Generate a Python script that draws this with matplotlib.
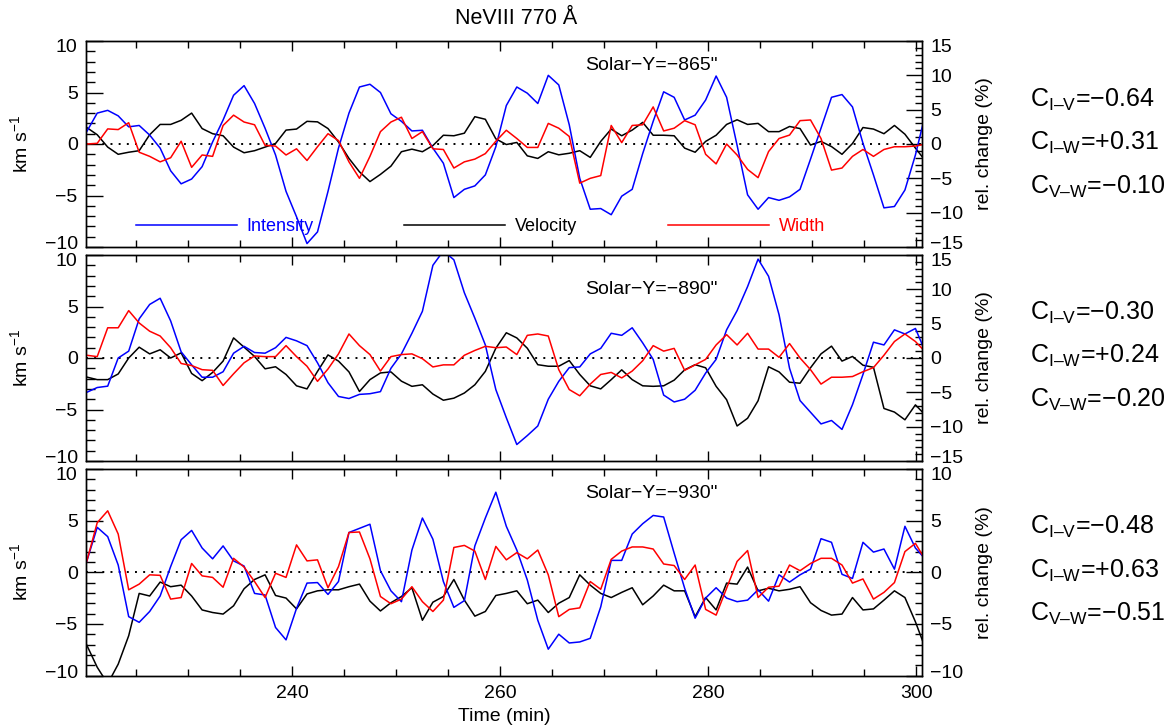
import numpy as np
import matplotlib
matplotlib.use("Agg")
import matplotlib.pyplot as plt
import matplotlib.transforms as mtransforms
from matplotlib.ticker import MultipleLocator, FixedLocator

plt.rcParams['font.family'] = ['Liberation Sans', 'DejaVu Sans']
plt.rcParams['mathtext.fontset'] = 'custom'
plt.rcParams['mathtext.rm'] = 'Liberation Sans'
plt.rcParams['mathtext.it'] = 'Liberation Sans:italic'
plt.rcParams['mathtext.bf'] = 'Liberation Sans:bold'

# ---------------- data ----------------
START = 220.22        # min, first sample
CADENCE = 1.0087      # min per sample

title = "NeVIII 770 Å"
solar_y = ['Solar−Y=−865"', 'Solar−Y=−890"', 'Solar−Y=−930"']
corr_labels = ['C$_{\\mathrm{I\u2013V}}$', 'C$_{\\mathrm{I\u2013W}}$', 'C$_{\\mathrm{V\u2013W}}$']
corr_values = [['−0.64', '+0.31', '−0.10'],
               ['−0.30', '+0.24', '−0.20'],
               ['−0.48', '+0.63', '−0.51']]
series_names = ['Intensity', 'Velocity', 'Width']

# panel 1 (Solar-Y = -865")
int1 = [1.8, 4.5, 4.9, 4.1, 2.5, 2.7, 1.3, -0.6, -3.9, -5.8,
        -5.1, -3.3, 0.3, 3.5, 7.1, 8.5, 5.9, 2.3, -1.6, -6.9,
        -10.6, -14.5, -12.8, -6.9, -0.6, 4.5, 8.3, 8.7, 7.5, 4.4,
        3.3, 1.9, 2.0, -0.6, -2.8, -7.8, -6.6, -6.1, -4.5, -0.4,
        5.6, 8.3, 7.4, 5.9, 10.0, 8.6, 2.8, -5.0, -9.5, -9.4,
        -10.3, -7.6, -6.6, -1.4, 3.3, 7.6, 6.8, 3.5, 4.2, 6.4,
        9.9, 6.8, -0.2, -7.4, -9.5, -7.8, -8.2, -7.7, -6.6, -2.2,
        2.3, 6.8, 7.2, 5.4, 0.1, -4.5, -9.3, -9.1, -6.7, -1.6,
        4.7]
vel1 = [1.6, 0.9, -0.3, -1.0, -0.8, -0.65, 0.9, 1.9, 1.9, 2.3,
        3.0, 1.5, 1.0, 0.8, -0.3, -0.85, -0.65, -0.3, 0.05, 1.35,
        1.45, 2.2, 2.15, 1.5, 0.2, -1.4, -2.7, -3.65, -2.95, -2.15,
        -0.75, -0.5, -0.75, -0.15, 0.85, 0.8, 1.05, 2.65, 2.4, 0.5,
        -0.05, 0.15, -1.15, -1.4, -0.75, -1.05, -0.9, -0.65, -1.3, 0.25,
        1.45, 0.8, 1.35, 2.1, 0.85, 0.85, 0.8, -0.4, -0.8, 0.25,
        0.85, 1.9, 2.35, 1.9, 2.0, 1.2, 1.2, 1.7, 1.5, -0.1,
        0.25, -0.25, -1.0, 0.05, 1.6, 1.45, 1.0, 1.8, 0.95, -0.4,
        -1.7]
wid1 = [0.0, 0.1, 2.2, 2.1, 3.1, -1.2, -1.8, -2.6, -2.0, 0.4,
        -3.4, -1.6, -1.8, 2.7, 4.2, 3.2, 2.8, -0.2, -0.3, -1.6,
        -0.7, -2.4, -0.4, 1.5, 0.5, -2.6, -5.0, -1.8, 1.8, 3.2,
        3.9, 0.8, 1.8, -0.7, -0.8, -3.5, -2.6, -2.2, -1.4, 0.4,
        2.0, 0.8, -0.5, -0.5, 3.0, 2.3, 1.1, -5.7, -5.0, -4.6,
        2.7, 0.2, 2.7, 2.8, 5.4, 1.9, 2.3, 3.4, 2.8, -1.5,
        -2.9, 0.0, -1.6, -3.7, -4.9, -1.1, 0.8, 1.3, 3.4, 3.5,
        0.8, -3.8, -3.5, -1.8, -0.8, -1.8, -0.8, -0.4, -0.4, -0.3,
        0.0]

# panel 2 (Solar-Y = -890")
int2 = [-5.0, -4.3, -4.1, 0.0, 1.0, 5.7, 7.8, 8.7, 5.4, 0.9,
        -1.0, -2.8, -2.8, -2.0, 0.7, 1.7, 0.8, 0.7, 1.5, 3.0,
        2.5, 1.8, -0.7, -3.6, -5.6, -5.9, -5.3, -5.2, -4.9, -1.5,
        0.6, 3.6, 6.8, 13.5, 15.6, 14.3, 9.5, 5.8, 1.9, -4.6,
        -8.7, -12.6, -11.3, -9.9, -6.0, -3.4, -1.4, -1.3, 0.6, 1.4,
        3.6, 3.3, 4.4, 2.2, -0.2, -5.4, -6.4, -6.0, -4.7, -2.2,
        -0.2, 4.1, 6.9, 10.4, 14.4, 11.9, 6.3, -1.5, -6.2, -7.9,
        -9.6, -9.1, -10.4, -6.8, -2.4, 2.3, 1.9, 4.1, 3.5, 4.3,
        0.7]
vel2 = [-1.85, -2.1, -2.1, -1.55, 0.0, 1.05, 0.4, 0.8, 0.0, 0.5,
        -1.5, -2.2, -1.4, -0.3, 1.95, 1.05, 0.15, -1.05, -0.85, -1.6,
        -2.7, -3.0, -1.3, 0.3, -0.3, -1.35, -3.25, -2.1, -1.45, -1.35,
        -2.25, -2.75, -2.6, -3.5, -4.1, -3.9, -3.4, -2.6, -1.3, 0.95,
        2.45, 1.95, 0.95, -0.65, -0.8, -0.8, -0.25, -1.6, -2.7, -3.0,
        -2.1, -1.15, -2.1, -2.7, -2.75, -2.7, -2.15, -1.15, -0.65, -0.95,
        -2.75, -4.05, -6.6, -5.85, -4.15, -0.85, -1.35, -2.35, -2.45, -0.95,
        0.4, 1.15, -0.3, 0.15, -0.7, -0.9, -4.9, -5.25, -6.0, -4.55,
        -5.6]
wid2 = [0.4, 0.2, 4.4, 4.4, 6.9, 5.1, 3.9, 3.2, 1.5, -0.8,
        -1.1, -1.7, -1.8, -4.0, -2.3, -0.7, 0.3, 0.2, 0.2, 1.8,
        0.2, -1.2, -3.4, -1.6, 0.6, 3.5, 1.8, 0.5, -1.9, 0.2,
        0.5, 0.6, -0.1, -1.3, -1.0, -1.0, 0.4, 1.1, 1.7, 1.5,
        1.6, 0.5, 3.3, 3.5, 3.2, -1.7, -4.6, -5.5, -3.8, -2.4,
        -2.1, -2.9, -1.9, -0.4, 1.8, 1.0, 1.4, -1.8, -1.0, -0.2,
        1.9, 3.4, 1.9, 3.6, 1.3, 1.3, 0.1, 2.1, 0.0, -1.7,
        -3.8, -2.8, -2.8, -2.7, -2.0, -1.4, 0.4, 2.4, 3.5, 2.4,
        0.8]

# panel 3 (Solar-Y = -930")
int3 = [1.05, 4.35, 3.45, 0.7, -4.3, -4.85, -3.8, -2.3, 0.55, 3.15,
        4.05, 2.35, 1.3, 2.55, 1.1, 0.6, -2.05, -2.2, -5.35, -6.55,
        -3.5, -1.05, -1.0, -2.15, -0.9, 3.85, 4.25, 4.65, 0.15, -1.8,
        -2.85, 2.15, 5.25, 3.2, -0.9, -3.4, -2.75, 2.55, 5.25, 7.75,
        4.45, 2.15, -0.75, -4.65, -7.45, -6.0, -6.85, -6.75, -6.4, -3.35,
        1.15, 1.15, 3.7, 4.7, 5.5, 5.35, 1.85, -1.55, -4.45, -2.5,
        -1.5, -2.5, -2.85, -2.7, -1.7, -2.8, -0.25, -0.95, -0.25, 0.3,
        3.25, 2.9, -0.2, -0.6, 2.9, 1.95, 2.25, 0.3, 4.45, 2.35,
        1.2]
vel3 = [-7.05, -9.2, -10.8, -8.9, -6.15, -2.05, -2.3, -0.95, -1.4, -1.25,
        -2.3, -3.65, -3.9, -4.05, -3.25, -1.6, -0.7, -0.25, -2.25, -2.5,
        -3.55, -2.1, -1.8, -1.7, -1.7, -1.4, -1.15, -2.8, -3.75, -2.95,
        -2.35, -1.5, -4.65, -2.9, -2.35, -0.7, -2.7, -4.25, -3.8, -2.25,
        -2.05, -1.8, -3.05, -2.7, -3.9, -3.0, -2.45, -0.25, -1.25, -2.05,
        -2.45, -1.95, -1.5, -3.15, -2.3, -1.25, -1.8, -1.8, -4.3, -2.45,
        -3.65, -1.05, -1.15, 0.5, -1.8, -1.55, -1.8, -1.65, -1.4, -2.95,
        -3.7, -4.15, -4.05, -2.45, -3.65, -3.55, -2.7, -1.8, -2.45, -4.8,
        -7.5]
wid3 = [1.05, 4.8, 5.95, 3.7, -1.7, -1.15, -0.25, -0.3, -2.6, -2.45,
        0.85, -0.35, -0.5, -1.45, 1.35, 0.5, -0.9, -2.45, -0.1, -0.5,
        2.65, 1.1, 1.2, -1.5, 0.55, 3.85, 3.9, 1.3, -2.35, -3.05,
        -2.6, -1.4, -2.85, -3.8, -2.7, 2.4, 2.6, 2.05, -0.7, 2.5,
        1.2, 1.9, 1.3, 2.15, -0.25, -4.3, -3.6, -3.45, -0.9, -1.65,
        1.25, 2.05, 2.45, 2.45, 2.25, 0.8, 0.65, -0.7, 0.7, -3.6,
        -4.15, -1.55, 1.05, 2.1, -2.45, -1.45, -1.35, 0.7, 0.15, 0.85,
        1.35, 1.35, 0.7, -1.05, -0.65, -2.6, -1.95, -1.0, 2.0, 2.8,
        1.1]

intensity = [int1, int2, int3]
velocity = [vel1, vel2, vel3]
width = [wid1, wid2, wid3]
left_ticks = [[-10, -5, 0, 5, 10]] * 3                      # km/s
right_ticks = [[-15, -10, -5, 0, 5, 10, 15],
               [-15, -10, -5, 0, 5, 10, 15],
               [-10, -5, 0, 5, 10]]                         # %

# ---------------- figure ----------------
W, H = 1173, 726
fig = plt.figure(figsize=(W / 100, H / 100), dpi=100)

x_left, x_right = 86, 922
panel_px = [(41, 247), (255, 461), (469, 675.5)]
solar_pos = [0.88, 0.832, 0.882]
corr_y = [[100, 143, 187], [313, 356, 400], [527, 571, 614]]

XMIN, XMAX = 220.15, 300.54
BLUE, RED, BLACK = '#0000ff', '#ff0000', '#000000'
LW = 1.1

down = mtransforms.ScaledTranslation(0, -3.0 / 72, fig.dpi_scale_trans)
up = mtransforms.ScaledTranslation(0, 3.0 / 72, fig.dpi_scale_trans)


def nudge_end_labels(axis, ticks_vals, use_label2):
    axis.set_major_locator(FixedLocator(ticks_vals))
    tks = axis.get_major_ticks(len(ticks_vals))
    for tk, v in zip(tks, ticks_vals):
        lab = tk.label2 if use_label2 else tk.label1
        if v == max(ticks_vals):
            lab.set_transform(lab.get_transform() + down)
        elif v == min(ticks_vals):
            lab.set_transform(lab.get_transform() + up)


for i in range(3):
    top, bot = panel_px[i]
    ax = fig.add_axes([x_left / W, 1 - bot / H, (x_right - x_left) / W, (bot - top) / H])
    ax2 = ax.twinx()
    n = len(velocity[i])
    t = START + CADENCE * np.arange(n)

    ax.axhline(0, color='k', ls=(0, (1, 3.2)), lw=1.4, zorder=1)
    lv, = ax.plot(t, velocity[i], color=BLACK, lw=LW, zorder=2)
    li, = ax2.plot(t, intensity[i], color=BLUE, lw=LW)
    lw_, = ax2.plot(t, width[i], color=RED, lw=LW)

    ax.set_xlim(XMIN, XMAX)
    ax.set_ylim(min(left_ticks[i]), max(left_ticks[i]))
    ax2.set_ylim(min(right_ticks[i]), max(right_ticks[i]))

    ax.xaxis.set_major_locator(MultipleLocator(20))
    ax.xaxis.set_minor_locator(MultipleLocator(5))
    ax.yaxis.set_minor_locator(MultipleLocator(1))
    ax2.yaxis.set_minor_locator(MultipleLocator(1))

    ax.tick_params(axis='x', which='both', direction='in', top=True, bottom=True,
                   labelsize=14, pad=7)
    ax.tick_params(axis='x', which='major', length=7, width=1)
    ax.tick_params(axis='x', which='minor', length=5, width=1)
    ax.tick_params(axis='y', which='both', direction='in', left=True, right=False,
                   labelsize=14, pad=6)
    ax.tick_params(axis='y', which='major', length=12, width=1)
    ax.tick_params(axis='y', which='minor', length=6.5, width=1)
    ax2.tick_params(axis='y', which='both', direction='in', labelsize=14, pad=6)
    ax2.tick_params(axis='y', which='major', length=11.5, width=1)
    ax2.tick_params(axis='y', which='minor', length=5, width=1)

    nudge_end_labels(ax.yaxis, left_ticks[i], False)
    nudge_end_labels(ax2.yaxis, right_ticks[i], True)

    if i < 2:
        ax.tick_params(axis='x', labelbottom=False)
    else:
        ax.set_xlabel('Time (min)', fontsize=14, labelpad=4)

    for a in (ax, ax2):
        for s in a.spines.values():
            s.set_linewidth(1.0)

    ax.set_ylabel(r'km s$^{-1}$', fontsize=14)
    ax.yaxis.set_label_coords(-0.066, 0.5)
    ax2.set_ylabel('rel. change (%)', fontsize=14)
    ax2.yaxis.set_label_coords(1.064, 0.5)

    ax.text(0.597, solar_pos[i], solar_y[i], transform=ax.transAxes,
            fontsize=14, ha='left', va='center')

    if i == 0:
        ax2.legend([li, lv, lw_], series_names, ncol=3, frameon=False,
                   handlelength=5.6, handletextpad=0.55, columnspacing=5.0,
                   labelcolor=[BLUE, BLACK, RED], fontsize=13,
                   loc='center', bbox_to_anchor=(0.4715, 0.1))

    for j in range(3):
        fig.text(1030 / W, 1 - corr_y[i][j] / H,
                 corr_labels[j] + '=' + corr_values[i][j],
                 fontsize=18, ha='left', va='center')

fig.text(516 / W, 1 - 18 / H, title, fontsize=15.5, ha='center', va='center')

fig.savefig('out.png', dpi=100)
